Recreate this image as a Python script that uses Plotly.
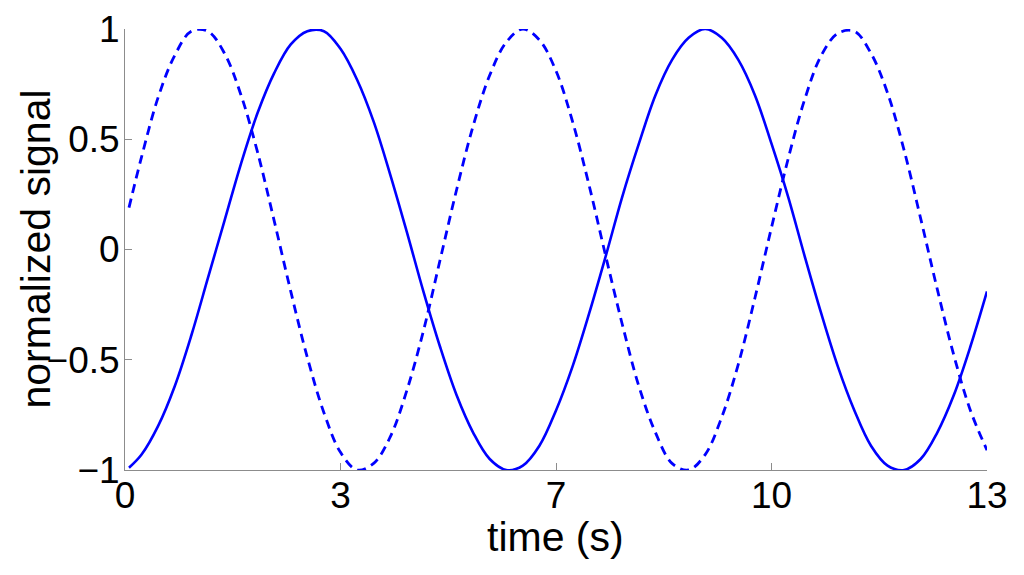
import plotly.graph_objects as go

# time samples (s) and the two normalized signals
time_s = [0.06, 0.25, 0.5, 0.75, 1.0, 1.25, 1.5, 1.75, 2.0, 2.25, 2.5, 2.75, 3.0,
          3.25, 3.5, 3.75, 4.0, 4.25, 4.5, 4.75, 5.0, 5.25, 5.5, 5.75, 6.0, 6.25,
          6.5, 6.75, 7.0, 7.25, 7.5, 7.75, 8.0, 8.25, 8.5, 8.75, 9.0, 9.25, 9.5,
          9.75, 10.0, 10.25, 10.5, 10.75, 11.0, 11.25, 11.5, 11.75, 12.0, 12.25,
          12.5, 12.75, 13.0]

signal_solid = [-0.99, -0.93, -0.80, -0.62, -0.39, -0.13, 0.13, 0.39, 0.62, 0.80,
                0.93, 0.99, 0.99, 0.91, 0.77, 0.58, 0.34, 0.08, -0.19, -0.44, -0.66,
                -0.83, -0.95, -1.00, -0.98, -0.89, -0.73, -0.53, -0.29, -0.03, 0.24,
                0.48, 0.70, 0.86, 0.96, 1.00, 0.96, 0.86, 0.70, 0.48, 0.24, -0.03,
                -0.29, -0.53, -0.73, -0.89, -0.98, -1.00, -0.95, -0.83, -0.66, -0.44,
                -0.19]

signal_dashed = [0.19, 0.42, 0.69, 0.88, 0.99, 0.99, 0.89, 0.70, 0.44, 0.13, -0.19,
                 -0.49, -0.74, -0.92, -1.00, -0.97, -0.85, -0.64, -0.37, -0.05, 0.27,
                 0.56, 0.79, 0.94, 1.00, 0.95, 0.81, 0.58, 0.29, -0.03, -0.34, -0.62,
                 -0.83, -0.97, -1.00, -0.93, -0.76, -0.52, -0.22, 0.10, 0.41, 0.68,
                 0.88, 0.98, 0.99, 0.89, 0.71, 0.45, 0.14, -0.18, -0.48, -0.73, -0.91]

x_tickvals = [0, 3.25, 6.5, 9.75, 13]
x_ticktext = ["0", "3", "7", "10", "13"]
y_tickvals = [-1, -0.5, 0, 0.5, 1]
y_ticktext = ["\u22121", "\u22120.5", "0", "0.5", "1"]

BLUE = "#0000ff"
AXIS_GRAY = "#8c8c8c"
FONT = "Liberation Sans, Arial, sans-serif"

fig = go.Figure()
fig.add_trace(go.Scatter(
    x=time_s, y=signal_solid, mode="lines",
    line=dict(color=BLUE, width=2.6, shape="spline", smoothing=1),
    hoverinfo="none", showlegend=False,
))
fig.add_trace(go.Scatter(
    x=time_s, y=signal_dashed, mode="lines",
    line=dict(color=BLUE, width=2.8, shape="spline", smoothing=1, dash="9px,6px"),
    hoverinfo="none", showlegend=False,
))

axis_style = dict(
    showgrid=False, zeroline=False, showline=True, linecolor=AXIS_GRAY, linewidth=1,
    ticks="inside", ticklen=7, tickcolor=AXIS_GRAY, tickfont=dict(size=37),
    automargin=False,
)

# the page body has an 8px margin, so the figure is a bit smaller than the window
fig.update_layout(
    width=1016, height=567,
    margin=dict(l=117, r=37, t=21, b=105),
    paper_bgcolor="white", plot_bgcolor="white",
    font=dict(family=FONT, color="black", size=37),
    xaxis=dict(range=[0, 13], tickvals=x_tickvals, ticktext=x_ticktext,
               ticklabelstandoff=-7, **axis_style),
    yaxis=dict(range=[-1, 1], tickvals=y_tickvals, ticktext=y_ticktext,
               ticklabelstandoff=-3, **axis_style),
    annotations=[
        dict(text="time (s)", xref="paper", yref="paper", x=0.499, y=-0.152,
             xanchor="center", yanchor="middle", showarrow=False,
             font=dict(size=41, family=FONT)),
        dict(text="normalized signal", xref="paper", yref="paper", x=-0.1044, y=0.5,
             xanchor="center", yanchor="middle", showarrow=False, textangle=-90,
             font=dict(size=41, family=FONT)),
    ],
)

fig.write_html("out.html")
